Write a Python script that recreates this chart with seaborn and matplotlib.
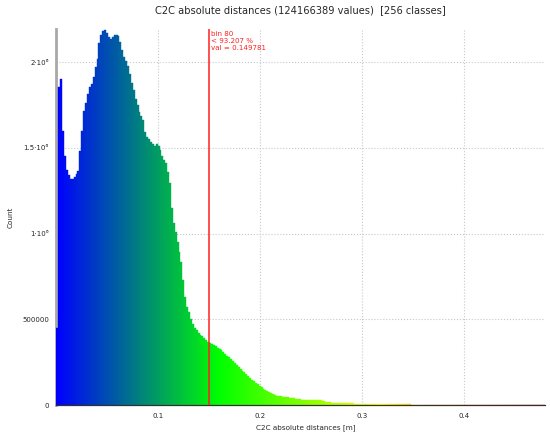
# Histograma das distâncias C2C (256 classes) com escala de cores azul > verde > amarelo > vermelho

import numpy as np
import matplotlib.pyplot as plt
import seaborn as sns
import pandas as pd
from matplotlib.colors import LinearSegmentedColormap
from matplotlib.ticker import FixedLocator, MultipleLocator

# Dados
n_classes = 256
largura_classe = 0.149781 / 80
valor_corte = 0.149781
texto_corte = ["bin 80", "< 93.207 %", "val = 0.149781"]

contagens = [
    450000, 1853000, 1900000, 1600000, 1450000, 1370000, 1342000, 1320000,
    1318000, 1330000, 1350000, 1367000, 1480000, 1600000, 1715000, 1760000,
    1814000, 1857000, 1871000, 1912000, 1970000, 2020000, 2110000, 2158000,
    2184000, 2188000, 2168000, 2149000, 2135000, 2149000, 2158000, 2158000,
    2150000, 2120000, 2070000, 2030000, 2007000, 1980000, 1930000, 1877000,
    1838000, 1785000, 1750000, 1708000, 1685000, 1663000, 1595000, 1565000,
    1552000, 1533000, 1521000, 1513000, 1521000, 1513000, 1488000, 1455000,
    1430000, 1410000, 1361000, 1293000, 1150000, 1060000, 1011000, 950000,
    895000, 836000, 729000, 628000, 570000, 540000, 500000, 470000,
    450000, 435000, 420000, 410000, 400000, 390000, 380000, 370000,
    362000, 356000, 350000, 344000, 335000, 327000, 318000, 308000,
    298000, 287000, 278000, 268000, 259000, 244000, 234000, 222000,
    211000, 200000, 190000, 181000, 170000, 160000, 148000, 139000,
    130000, 121000, 113000, 104000, 95000, 88000, 81000, 76000,
    68000, 63000, 57000, 54000, 52000, 50000, 49000, 47000,
    46000, 45000, 43000, 41000, 39000, 37000, 35000, 33000,
    32000, 32000, 31000, 31000, 30000, 30000, 29000, 29000,
    28000, 28000, 27000, 25000, 23000, 20000, 17000, 15600,
    14000, 13000, 12000, 11700, 11000, 10500, 10000, 9800,
    9700, 9400, 9100, 8800, 8500, 8300, 8000, 7800,
    7500, 7200, 6900, 6600, 6300, 6000, 5800, 5600,
    5400, 5200, 5000, 4800, 4600, 4400, 4200, 4000,
    3900, 3800, 3700, 3600, 3500, 3400, 3300, 3200,
    3100, 3000, 2900, 2800, 2700, 2600, 2500, 2400,
    2300, 2200, 2100, 2000, 1900, 1800, 1700, 1600,
    1500, 1400, 1300, 1200, 1100, 1000, 950, 900,
    850, 800, 750, 700, 650, 600, 560, 520,
    480, 440, 400, 380, 360, 340, 320, 300,
    280, 260, 240, 220, 200, 190, 180, 170,
    160, 150, 140, 130, 120, 110, 100, 95,
    90, 85, 80, 75, 70, 65, 60, 55,
    50, 45, 40, 35, 30, 25, 20, 15,
]

y_ticks = [0, 500000, 1000000, 1500000, 2000000]
y_rotulos = ["0", "500000", "1·10⁶", "1.5·10⁶", "2·10⁶"]
x_ticks = [0.1, 0.2, 0.3, 0.4]
x_rotulos = ["0.1", "0.2", "0.3", "0.4"]

# Montando o DataFrame com as classes
bordas = np.arange(n_classes + 1) * largura_classe
df_hist = pd.DataFrame({
    "Distancia": (bordas[:-1] + bordas[1:]) / 2,
    "Contagem": contagens,
})

sns.set_style("white")
plt.rcParams["font.family"] = ["DejaVu Sans"]

figura = plt.figure(figsize=(5.5, 4.36), dpi=100)
eixo = figura.add_axes([0.1027, 0.0711, 0.888, 0.8624])

sns.histplot(data=df_hist, x="Distancia", weights="Contagem", bins=list(bordas),
             ax=eixo, linewidth=0, alpha=1)

# Cores de cada barra conforme a escala azul > verde > amarelo > vermelho
escala = LinearSegmentedColormap.from_list(
    "bgyr", ["#0000ff", "#00ff00", "#ffff00", "#ff0000"])
for barra in eixo.patches:
    centro = barra.get_x() + barra.get_width() / 2
    cor = escala(centro / bordas[-1])
    barra.set_facecolor(cor)
    barra.set_edgecolor(cor)
    barra.set_linewidth(0.3)
    barra.set_zorder(3)

# Linha vertical do corte e texto
eixo.axvline(valor_corte, color="#ff2020", linewidth=1.1, zorder=5)
eixo.text(valor_corte + 0.0015, 0.995, "\n".join(texto_corte),
          transform=eixo.get_xaxis_transform(), color="#ff2020",
          fontsize=5.1, va="top", ha="left", linespacing=1.2)

eixo.set_xlim(0, bordas[-1])
eixo.set_ylim(0, 2193000)

eixo.xaxis.set_major_locator(FixedLocator(x_ticks))
eixo.set_xticklabels(x_rotulos)
eixo.xaxis.set_minor_locator(MultipleLocator(0.02))
eixo.yaxis.set_major_locator(FixedLocator(y_ticks))
eixo.set_yticklabels(y_rotulos)
eixo.yaxis.set_minor_locator(MultipleLocator(100000))

eixo.tick_params(which="both", direction="out", labelsize=5,
                 color="#404040", width=0.8, pad=2.5)
eixo.tick_params(which="major", length=3)
eixo.tick_params(which="minor", length=3)

eixo.grid(True, which="major", linestyle=":", color="#c8c8c8", linewidth=0.8)
eixo.set_axisbelow(True)

sns.despine(ax=eixo)
eixo.spines["left"].set_color("#a8a8a8")
eixo.spines["left"].set_linewidth(2)
eixo.spines["left"].set_zorder(2.5)
eixo.spines["bottom"].set_color("#303030")
eixo.spines["bottom"].set_linewidth(0.9)
eixo.spines["bottom"].set_zorder(4)

eixo.set_xlabel("C2C absolute distances [m]", fontsize=5.2)
eixo.set_ylabel("Count", fontsize=5.2)
eixo.xaxis.set_label_coords(0.51, -0.05)
eixo.yaxis.set_label_coords(-0.088, 0.5)

figura.text(0.547, 1 - 10 / 436,
            "C2C absolute distances (124166389 values)  [256 classes]",
            fontsize=7.1, ha="center", va="center")

figura.savefig("out.png", dpi=100)
